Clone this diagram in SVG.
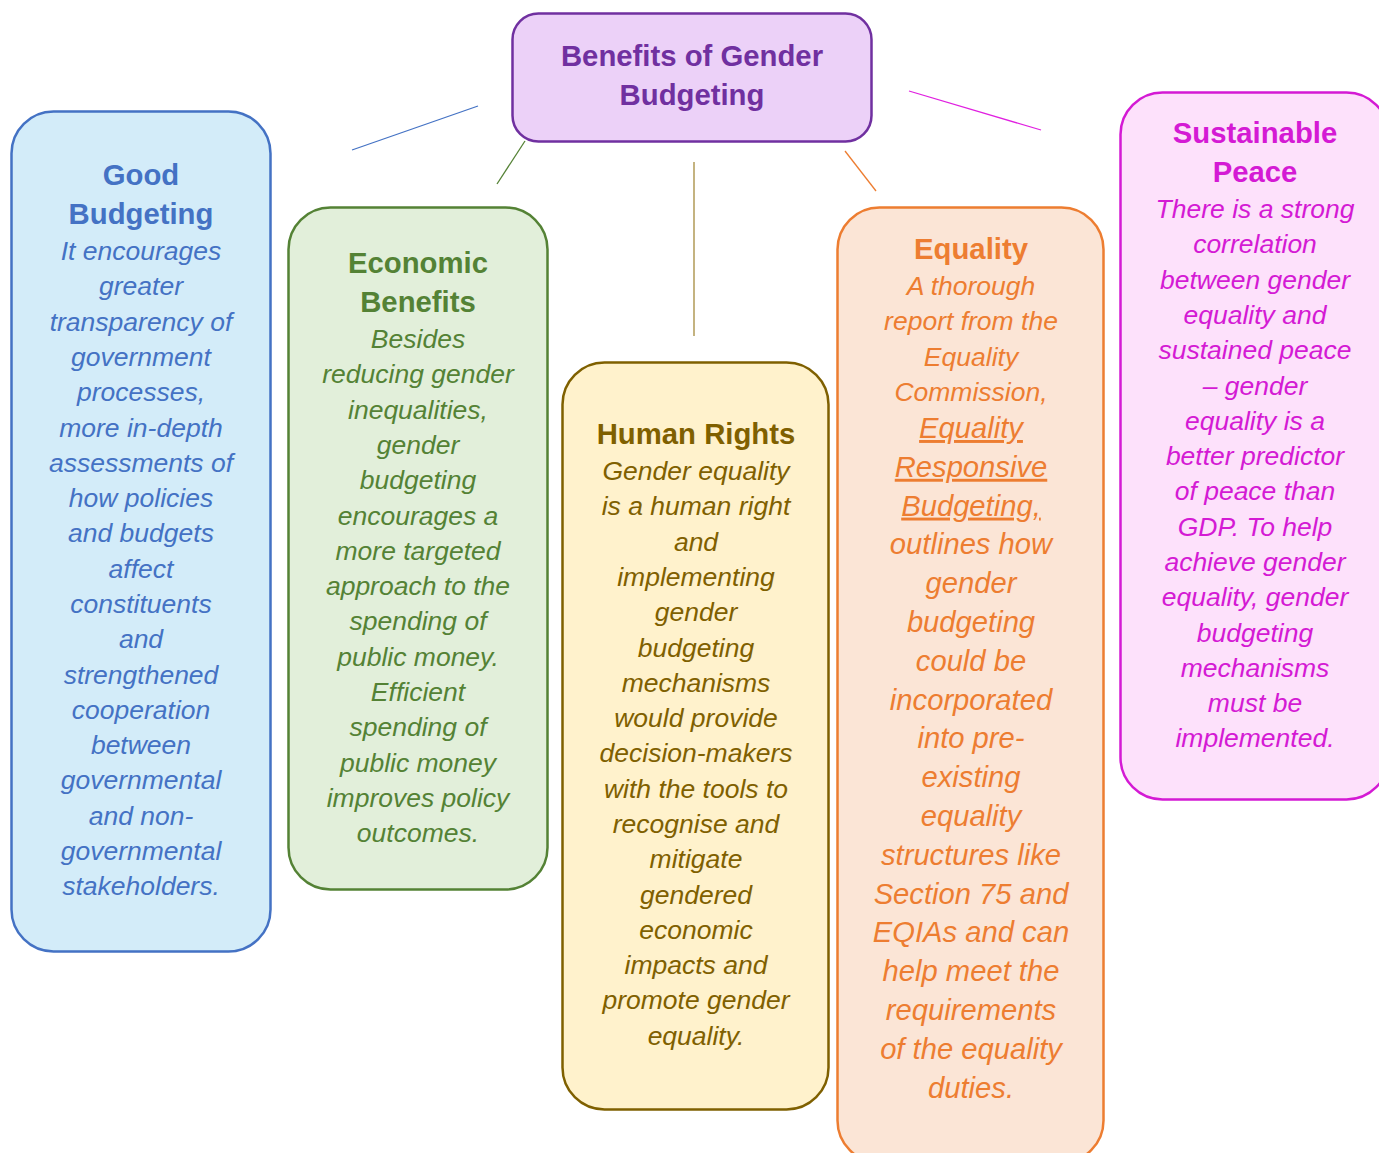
<svg xmlns="http://www.w3.org/2000/svg" width="1379" height="1153" viewBox="0 0 1379 1153">
<style>
.box{stroke-width:2.5}
.t{font-family:"Liberation Sans",Arial,sans-serif;font-weight:bold;font-size:29.3px;text-anchor:middle}
.b{font-family:"Liberation Sans",Arial,sans-serif;font-style:italic;font-size:26.5px;text-anchor:middle}
.bl{font-family:"Liberation Sans",Arial,sans-serif;font-style:italic;font-size:29.2px;text-anchor:middle}
.c{fill:none;stroke-width:1.3}
</style>
<rect width="1379" height="1153" fill="#ffffff"/>
<g id="connectors">
<line class="c" x1="352" y1="150" x2="478" y2="106" stroke="#4472C4"/>
<line class="c" x1="497" y1="184" x2="525" y2="141" stroke="#548235"/>
<line class="c" x1="694" y1="162" x2="694" y2="336" stroke="#A58A3C" stroke-width="2"/>
<line class="c" x1="845" y1="151" x2="876" y2="191" stroke="#ED7D31"/>
<line class="c" x1="909" y1="91" x2="1041" y2="130" stroke="#E020E0"/>
</g>
<g id="root">
<rect class="box" x="512.5" y="13.5" width="359" height="128" rx="26" fill="#ECD1F8" stroke="#7030A0"/>
<text class="t" fill="#7030A0"><tspan x="692" y="66">Benefits of Gender</tspan><tspan x="692" y="105">Budgeting</tspan></text>
</g>
<g id="good-budgeting">
<rect class="box" x="11.5" y="111.5" width="259" height="840" rx="42" fill="#D3ECF9" stroke="#4472C4"/>
<text class="t" fill="#4472C4"><tspan x="141" y="185">Good</tspan><tspan x="141" y="224">Budgeting</tspan></text>
<text class="b" fill="#4472C4" y="260"><tspan x="141" y="260">It encourages</tspan><tspan x="141" dy="35.3">greater</tspan><tspan x="141" dy="35.3">transparency of</tspan><tspan x="141" dy="35.3">government</tspan><tspan x="141" dy="35.3">processes,</tspan><tspan x="141" dy="35.3">more in-depth</tspan><tspan x="141" dy="35.3">assessments of</tspan><tspan x="141" dy="35.3">how policies</tspan><tspan x="141" dy="35.3">and budgets</tspan><tspan x="141" dy="35.3">affect</tspan><tspan x="141" dy="35.3">constituents</tspan><tspan x="141" dy="35.3">and</tspan><tspan x="141" dy="35.3">strengthened</tspan><tspan x="141" dy="35.3">cooperation</tspan><tspan x="141" dy="35.3">between</tspan><tspan x="141" dy="35.3">governmental</tspan><tspan x="141" dy="35.3">and non-</tspan><tspan x="141" dy="35.3">governmental</tspan><tspan x="141" dy="35.3">stakeholders.</tspan></text>
</g>
<g id="economic-benefits">
<rect class="box" x="288.5" y="207.5" width="259" height="682" rx="42" fill="#E2EFDA" stroke="#548235"/>
<text class="t" fill="#548235"><tspan x="418" y="273">Economic</tspan><tspan x="418" y="312">Benefits</tspan></text>
<text class="b" fill="#548235"><tspan x="418" y="348">Besides</tspan><tspan x="418" dy="35.3">reducing gender</tspan><tspan x="418" dy="35.3">inequalities,</tspan><tspan x="418" dy="35.3">gender</tspan><tspan x="418" dy="35.3">budgeting</tspan><tspan x="418" dy="35.3">encourages a</tspan><tspan x="418" dy="35.3">more targeted</tspan><tspan x="418" dy="35.3">approach to the</tspan><tspan x="418" dy="35.3">spending of</tspan><tspan x="418" dy="35.3">public money.</tspan><tspan x="418" dy="35.3">Efficient</tspan><tspan x="418" dy="35.3">spending of</tspan><tspan x="418" dy="35.3">public money</tspan><tspan x="418" dy="35.3">improves policy</tspan><tspan x="418" dy="35.3">outcomes.</tspan></text>
</g>
<g id="human-rights">
<rect class="box" x="562.5" y="362.5" width="266" height="747" rx="42" fill="#FFF2CC" stroke="#7F6000"/>
<text class="t" fill="#7F6000"><tspan x="696" y="444">Human Rights</tspan></text>
<text class="b" fill="#7F6000"><tspan x="696" y="480">Gender equality</tspan><tspan x="696" dy="35.3">is a human right</tspan><tspan x="696" dy="35.3">and</tspan><tspan x="696" dy="35.3">implementing</tspan><tspan x="696" dy="35.3">gender</tspan><tspan x="696" dy="35.3">budgeting</tspan><tspan x="696" dy="35.3">mechanisms</tspan><tspan x="696" dy="35.3">would provide</tspan><tspan x="696" dy="35.3">decision-makers</tspan><tspan x="696" dy="35.3">with the tools to</tspan><tspan x="696" dy="35.3">recognise and</tspan><tspan x="696" dy="35.3">mitigate</tspan><tspan x="696" dy="35.3">gendered</tspan><tspan x="696" dy="35.3">economic</tspan><tspan x="696" dy="35.3">impacts and</tspan><tspan x="696" dy="35.3">promote gender</tspan><tspan x="696" dy="35.3">equality.</tspan></text>
</g>
<g id="equality">
<rect class="box" x="837.5" y="207.5" width="266" height="955" rx="42" fill="#FBE5D6" stroke="#ED7D31"/>
<text class="t" fill="#ED7D31"><tspan x="971" y="259">Equality</tspan></text>
<text class="b" fill="#ED7D31"><tspan x="971" y="295">A thorough</tspan><tspan x="971" dy="35.3">report from the</tspan><tspan x="971" dy="35.3">Equality</tspan><tspan x="971" dy="35.3">Commission,</tspan></text>
<text class="bl" fill="#ED7D31"><tspan x="971" y="438" text-decoration="underline">Equality</tspan><tspan x="971" dy="38.8" text-decoration="underline">Responsive</tspan><tspan x="971" dy="38.8" text-decoration="underline">Budgeting,</tspan><tspan x="971" dy="38.8">outlines how</tspan><tspan x="971" dy="38.8">gender</tspan><tspan x="971" dy="38.8">budgeting</tspan><tspan x="971" dy="38.8">could be</tspan><tspan x="971" dy="38.8">incorporated</tspan><tspan x="971" dy="38.8">into pre-</tspan><tspan x="971" dy="38.8">existing</tspan><tspan x="971" dy="38.8">equality</tspan><tspan x="971" dy="38.8">structures like</tspan><tspan x="971" dy="38.8">Section 75 and</tspan><tspan x="971" dy="38.8">EQIAs and can</tspan><tspan x="971" dy="38.8">help meet the</tspan><tspan x="971" dy="38.8">requirements</tspan><tspan x="971" dy="38.8">of the equality</tspan><tspan x="971" dy="38.8">duties.</tspan></text>
</g>
<g id="sustainable-peace">
<rect class="box" x="1120.5" y="92.5" width="268" height="707" rx="42" fill="#FDE1FB" stroke="#D41AD4"/>
<text class="t" fill="#D41AD4"><tspan x="1255" y="143">Sustainable</tspan><tspan x="1255" y="182">Peace</tspan></text>
<text class="b" fill="#D41AD4"><tspan x="1255" y="218">There is a strong</tspan><tspan x="1255" dy="35.3">correlation</tspan><tspan x="1255" dy="35.3">between gender</tspan><tspan x="1255" dy="35.3">equality and</tspan><tspan x="1255" dy="35.3">sustained peace</tspan><tspan x="1255" dy="35.3">– gender</tspan><tspan x="1255" dy="35.3">equality is a</tspan><tspan x="1255" dy="35.3">better predictor</tspan><tspan x="1255" dy="35.3">of peace than</tspan><tspan x="1255" dy="35.3">GDP. To help</tspan><tspan x="1255" dy="35.3">achieve gender</tspan><tspan x="1255" dy="35.3">equality, gender</tspan><tspan x="1255" dy="35.3">budgeting</tspan><tspan x="1255" dy="35.3">mechanisms</tspan><tspan x="1255" dy="35.3">must be</tspan><tspan x="1255" dy="35.3">implemented.</tspan></text>
</g>
</svg>
